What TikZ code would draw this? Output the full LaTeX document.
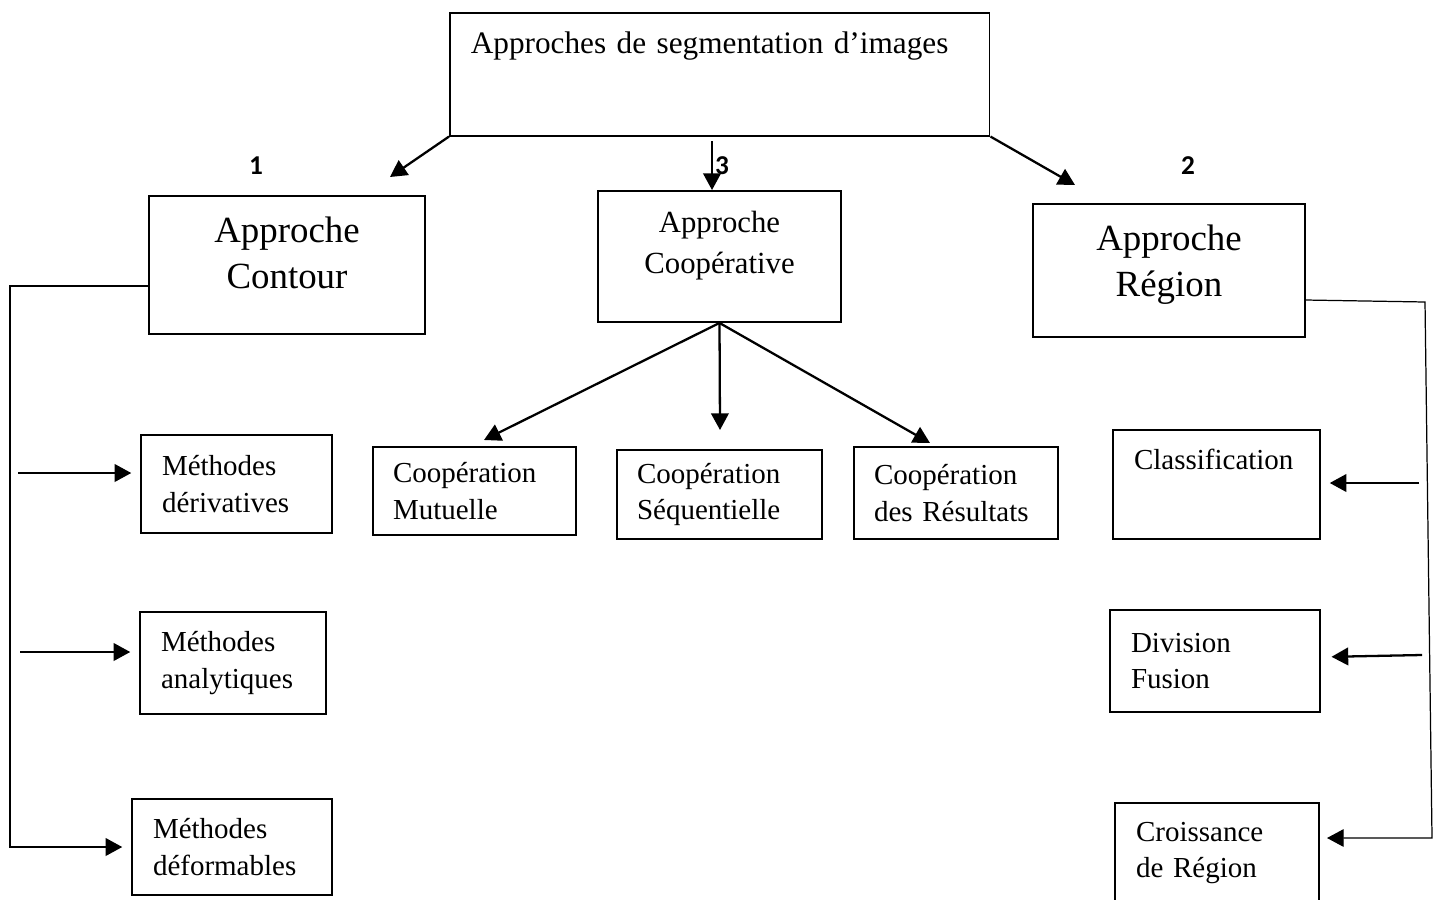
\documentclass[tikz,border=0pt]{standalone}
\usepackage{fontspec}
\setmainfont{Liberation Serif}
\newfontfamily\numfont{Carlito}
\usepackage{tikz}
\usetikzlibrary{arrows.meta,positioning,calc}

\begin{document}
\begin{tikzpicture}[x=0.02cm, y=-0.02cm,
    box/.style={rectangle, draw=black, line width=1.1pt, inner ysep=0pt},
    bigbox/.style={box, align=center, font=\fontsize{21pt}{26pt}\selectfont},
    midbox/.style={box, align=center, font=\fontsize{17.5pt}{23pt}\selectfont},
    leafbox/.style={box, line width=0.9pt, align=left, inner xsep=0.42cm, font=\fontsize{16.5pt}{21pt}\selectfont},
    numlabel/.style={font=\numfont\bfseries\fontsize{15.5pt}{18pt}\selectfont},
    arr/.style={-{Triangle[length=9.5pt,width=10pt]}, line width=1.3pt},
    thinarr/.style={-{Triangle[length=9.5pt,width=10pt]}, line width=0.7pt}
]
    \clip (0,0) rectangle (1442,899);

    % top box
    \node[box, line width=0.9pt, anchor=north west, align=left, inner xsep=0.42cm,
          text width=9.96cm, text height=0.82cm, text depth=1.64cm,
          font=\fontsize{17.8pt}{21pt}\selectfont] (top) at (449,12) {Approches de segmentation d'images};

    % the three approaches
    \node[bigbox, minimum width=5.52cm, text height=1.85cm, text depth=0.91cm] (cont) at (287,265) {Approche\\Contour};
    \node[midbox, minimum width=4.86cm, text height=1.64cm, text depth=0.98cm] (coop) at (719.5,256.5) {Approche\\Coopérative};
    \node[bigbox, minimum width=5.44cm, text height=1.85cm, text depth=0.81cm] (reg) at (1169,270.5) {Approche\\Région};

    \node[numlabel] (n1) at (256,166) {1};
    \node[numlabel] (n3) at (722,166) {3};
    \node[numlabel] (n2) at (1188,166) {2};

    % contour methods
    \node[leafbox, line width=1.1pt, minimum height=1.96cm, text width=2.98cm] (md) at (236.5,484) {Méthodes\\dérivatives};
    \node[leafbox, line width=1.1pt, minimum height=2.04cm, text width=2.88cm] (ma) at (233,663) {Méthodes\\analytiques};
    \node[leafbox, line width=1.1pt, minimum height=1.92cm, text width=3.16cm] (mf) at (232,847) {Méthodes\\déformables};

    % cooperative methods
    \node[leafbox, inner xsep=0.4cm, minimum height=1.76cm, text width=3.26cm] (cm) at (474.5,491) {Coopération\\Mutuelle};
    \node[leafbox, inner xsep=0.4cm, minimum height=1.78cm, text width=3.30cm] (cs) at (719.5,494.5) {Coopération\\Séquentielle};
    \node[leafbox, inner xsep=0.4cm, minimum height=1.84cm, text width=3.28cm] (cr) at (956,493) {Coopération\\des Résultats};

    % region methods
    \node[leafbox, line width=1.1pt, minimum height=2.18cm, text width=3.30cm] (cl) at (1216.5,484.5) {Classification\\[8pt]~};
    \node[leafbox, line width=1.1pt, minimum height=2.04cm, text width=3.36cm] (df) at (1215,661) {Division\\Fusion};
    \node[leafbox, line width=1.1pt, minimum height=2.0cm, text width=3.24cm] (cg) at (1217,853) {Croissance\\de Région};

    % arrows from the top box
    \coordinate (t1) at (390,177);
    \coordinate (t3) at (712,141);
    \coordinate (t2) at (1075,185);
    \draw[arr] (top.south west) -- (t1);
    \draw[arr] (t3) -- (t3 |- coop.north);
    \draw[arr] (top.south east) -- (t2);

    % contour branch
    \coordinate (cL) at (149,286);
    \coordinate (a1) at (18,473);
    \coordinate (a2) at (20,652);
    \draw[arr, shorten >=5pt] (cL) -- ++(-139,0) |- (mf.west);
    \draw[arr, shorten >=5pt] (a1) -- (a1 -| md.west);
    \draw[arr, shorten >=5pt] (a2) -- (a2 -| ma.west);

    % cooperative branch
    \coordinate (c1) at (484,440);
    \coordinate (c2) at (720,430);
    \coordinate (c3) at (930,443);
    \draw[arr] (coop.south) -- (c1);
    \draw[arr] (coop.south) -- (c2);
    \draw[arr] (coop.south) -- (c3);

    % region branch
    \coordinate (rR) at (1305,300);
    \coordinate (b1) at (1419,483);
    \coordinate (b2) at (1422,655);
    \draw[thinarr, shorten >=4pt] (rR) -- (1425,302) -- (1432,838) -- (cg.east |- 0,838);
    \draw[arr, shorten >=5pt] (b1) -- (b1 -| cl.east);
    \draw[arr, shorten >=6pt] (b2) -- (df.east |- 0,657);
\end{tikzpicture}
\end{document}
